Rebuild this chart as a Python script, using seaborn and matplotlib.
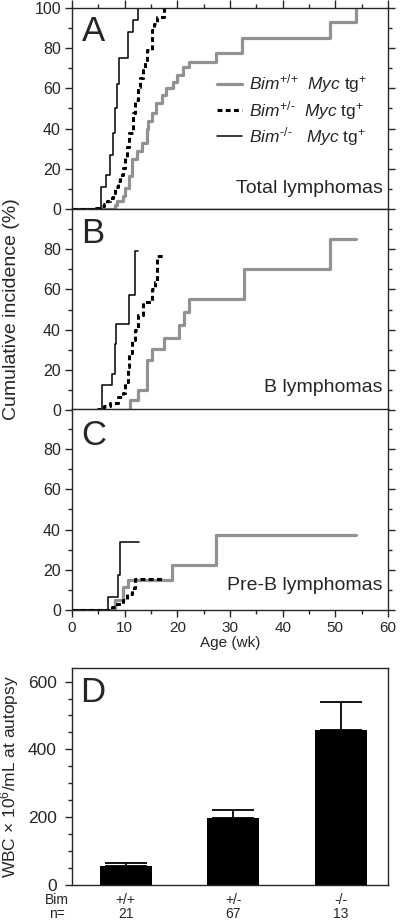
import matplotlib
matplotlib.use('Agg')
import matplotlib.pyplot as plt
import seaborn as sns
from matplotlib.ticker import MultipleLocator, FixedLocator

# ---- data ----
# panel A: total lymphomas, cumulative incidence (%) vs age (wk)
a_wt_t = [0, 8.1, 8.5, 9.6, 10.0, 10.9, 11.3, 12.3, 13.2, 14.2, 14.5, 15.1, 16.0, 17.0, 17.9, 19.1, 20.0, 21.0, 22.3, 27.4, 32.3, 49.0, 54.0]
a_wt_v = [0, 2, 4, 6.5, 10.5, 16.5, 25, 29, 33, 40, 44, 48, 52.5, 56.5, 60, 63, 66.5, 70.5, 73, 77.5, 85, 93, 100]
a_het_t = [0, 4.5, 5.3, 6.0, 6.6, 7.2, 7.7, 8.1, 8.7, 9.2, 9.6, 10.0, 10.4, 10.9, 11.5, 11.9, 12.5, 13.0, 13.4, 13.9, 14.3, 15.1, 15.6, 16.2, 17.4]
a_het_v = [0, 0.7, 1.5, 2.5, 4, 5.5, 8, 11, 14, 17, 20.5, 26, 31, 38, 48, 54, 60.5, 65, 69, 74, 79, 89, 92, 95.5, 100]
a_ko_t = [0, 5.5, 6.4, 7.2, 7.7, 8.1, 8.5, 8.9, 10.6, 11.5, 12.5]
a_ko_v = [0, 11, 17, 27, 38, 50, 62, 75, 88, 94, 100]

# panel B: B lymphomas
b_wt_t = [0, 11.1, 12.5, 14.3, 15.1, 17.5, 20.4, 21.3, 22.3, 32.6, 49.0, 54.0]
b_wt_v = [0, 5, 10, 25, 30.5, 36, 42.5, 49, 55, 70, 85, 85]
b_het_t = [0, 5.0, 6.0, 7.2, 8.7, 9.6, 10.0, 10.6, 10.9, 11.3, 11.9, 12.5, 13.4, 15.1, 15.7, 16.2, 17.5]
b_het_v = [0, 0.5, 2, 3.5, 6.5, 8.5, 14, 21.5, 28.5, 35, 40, 47.5, 54, 60, 63.5, 76.5, 76.5]
b_ko_t = [0, 5.7, 7.6, 8.1, 8.4, 10.9, 11.9, 12.6]
b_ko_v = [0, 12.5, 18, 33, 43, 57, 79, 79]

# panel C: pre-B lymphomas
c_wt_t = [0, 8.1, 9.6, 10.6, 18.9, 27.4, 54.0]
c_wt_v = [0, 5, 11.5, 15, 22.5, 37.5, 37.5]
c_het_t = [0, 7.6, 8.5, 9.6, 10.4, 11.3, 11.9, 17.5]
c_het_v = [0, 1.5, 3, 5, 8, 11, 15.5, 15.5]
c_ko_t = [0, 6.8, 8.7, 9.2, 12.8]
c_ko_v = [0, 6.5, 17.5, 34, 34]

# panel D: WBC at autopsy
genotype = ['+/+', '+/-', '-/-']
n_mice = ['21', '67', '13']
wbc_mean = [56, 199, 458]
wbc_sem = [9, 22, 83]

panel_titles = ['Total lymphomas', 'B lymphomas', 'Pre-B lymphomas']
panel_letters = ['A', 'B', 'C']
legend_labels = [r'$\mathit{Bim}^{\text{+/+}}$  $\mathit{Myc}$ tg$^{\text{+}}$',
                 r'$\mathit{Bim}^{\text{+/-}}$  $\mathit{Myc}$ tg$^{\text{+}}$',
                 r'$\mathit{Bim}^{\text{-/-}}$   $\mathit{Myc}$ tg$^{\text{+}}$']

sns.set_style('ticks')
plt.rcParams['font.family'] = ['Liberation Sans', 'DejaVu Sans']
plt.rcParams['mathtext.fontset'] = 'custom'
plt.rcParams['mathtext.rm'] = 'Liberation Sans'
plt.rcParams['mathtext.it'] = 'Liberation Sans:italic'
plt.rcParams['axes.linewidth'] = 1.0

grey = '#929292'
styles = [dict(color=grey, lw=2.3, linestyle='-'),
          dict(color='black', lw=2.2, linestyle=(0, (1.6, 1.1))),
          dict(color='black', lw=1.1, linestyle='-')]

fig = plt.figure(figsize=(4.0, 9.21), dpi=100)

data = [
    [(a_wt_t, a_wt_v), (a_het_t, a_het_v), (a_ko_t, a_ko_v)],
    [(b_wt_t, b_wt_v), (b_het_t, b_het_v), (b_ko_t, b_ko_v)],
    [(c_wt_t, c_wt_v), (c_het_t, c_het_v), (c_ko_t, c_ko_v)],
]
bottoms = [0.7731, 0.5548, 0.3377]
axes = []
for i in range(3):
    ax = fig.add_axes([0.18, bottoms[i], 0.79, 0.2182])
    axes.append(ax)
    for (t, v), st in zip(data[i], styles):
        sns.lineplot(x=t, y=v, ax=ax, estimator=None, sort=False,
                     drawstyle='steps-post', **st)
    ax.set_xlim(0, 60)
    ax.set_ylim(0, 100)
    ax.set_xlabel('')
    ax.set_ylabel('')
    top = 100 if i == 0 else 80
    ax.yaxis.set_major_locator(FixedLocator(list(range(0, top + 1, 20))))
    ax.yaxis.set_minor_locator(FixedLocator([10, 30, 50, 70, 90]))
    ax.xaxis.set_major_locator(MultipleLocator(10))
    ax.xaxis.set_minor_locator(MultipleLocator(5))
    ax.tick_params(axis='y', which='both', direction='out', left=True, right=True,
                   labelsize=11.5, pad=3)
    ax.tick_params(axis='both', which='major', length=5, width=1)
    ax.tick_params(axis='both', which='minor', length=2.7, width=1)
    if i == 0:
        ax.tick_params(axis='x', which='both', top=True, bottom=False, labelbottom=False)
        ax.tick_params(axis='x', which='major', length=6)
    elif i == 1:
        ax.tick_params(axis='x', which='both', top=False, bottom=False, labelbottom=False)
    else:
        ax.tick_params(axis='x', which='both', top=False, bottom=True, labelsize=11, pad=3)
        ax.set_xlabel('Age (wk)', fontsize=11, labelpad=1)
    ax.text(0.03, [0.885, 0.88, 0.87][i], panel_letters[i], transform=ax.transAxes,
            fontsize=25, ha='left', va='center')
    ax.text(0.984, [0.104, 0.114, 0.124][i], panel_titles[i], transform=ax.transAxes,
            fontsize=14, ha='right', va='center')

axes[0].legend(axes[0].lines[:3], legend_labels, loc='upper left', frameon=False,
               bbox_to_anchor=(0.46, 0.68), fontsize=12.5, handlelength=1.4,
               handletextpad=0.4, labelspacing=0.2, borderpad=0, borderaxespad=0)

fig.text(0.03, 0.664, 'Cumulative incidence (%)', rotation=90, fontsize=14,
         ha='center', va='center')

# ---- panel D ----
axd = fig.add_axes([0.18, 0.0391, 0.79, 0.2356])
sns.barplot(x=genotype, y=wbc_mean, color='black', width=0.48, ax=axd,
            saturation=1, errorbar=None, linewidth=0)
axd.errorbar(range(3), wbc_mean, yerr=[[0, 0, 0], wbc_sem], fmt='none',
             ecolor='black', elinewidth=1.3, capsize=15, capthick=1.3)
axd.set_xlim(-0.5, 2.44)
axd.set_ylim(0, 640)
axd.yaxis.set_major_locator(MultipleLocator(200))
axd.yaxis.set_minor_locator(MultipleLocator(50))
axd.tick_params(axis='y', which='major', length=5, width=1, labelsize=12.5, pad=6)
axd.tick_params(axis='y', which='minor', length=2.7, width=1)
axd.tick_params(axis='x', length=0, labelsize=10, pad=6)
axd.set_xticks(range(3))
axd.set_xticklabels([g + '\n' + n for g, n in zip(genotype, n_mice)], linespacing=1.0)
for sp in axd.spines.values():
    sp.set_visible(True)
axd.set_ylabel('WBC × 10$^{6}$/mL at autopsy', fontsize=12.5)
axd.yaxis.set_label_coords(-0.16, 0.5)
axd.text(-0.047, -0.038, 'Bim\nn=', transform=axd.transAxes, fontsize=10,
         ha='center', va='top', linespacing=1.0)
axd.text(0.025, 0.885, 'D', transform=axd.transAxes, fontsize=25, ha='left', va='center')

fig.savefig('out.png', dpi=100)
